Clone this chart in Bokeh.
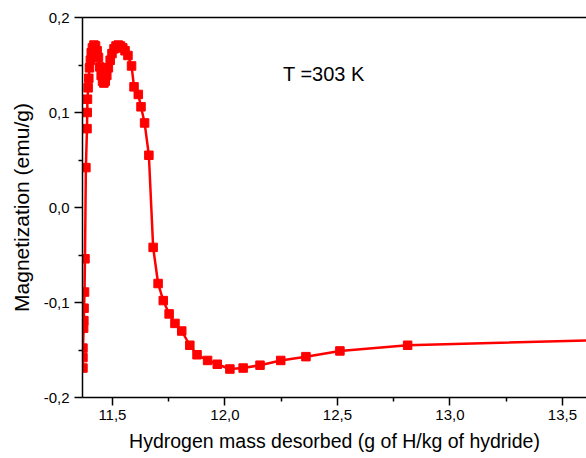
from bokeh.plotting import figure
from bokeh.models import FixedTicker, CustomJSTickFormatter, LinearAxis, Range1d, Label
from bokeh.embed import file_html
from bokeh.resources import INLINE

# Measured data (hydrogen mass desorbed, magnetization)
h_mass = [11.369, 11.369, 11.369, 11.372, 11.373, 11.374, 11.376, 11.378, 11.382,
          11.387, 11.388, 11.389, 11.392, 11.395, 11.398, 11.402, 11.406, 11.411,
          11.418, 11.425, 11.432, 11.438, 11.444, 11.450, 11.456, 11.462, 11.468,
          11.475, 11.482, 11.490, 11.498, 11.507, 11.516, 11.526, 11.536, 11.546,
          11.556, 11.569, 11.585, 11.596, 11.615, 11.627, 11.643, 11.662, 11.681,
          11.703, 11.726, 11.752, 11.778, 11.808, 11.844, 11.876, 11.923, 11.966,
          12.022, 12.081, 12.156, 12.248, 12.360, 12.511, 12.812]
magnet = [-0.169, -0.158, -0.148, -0.127, -0.119, -0.106, -0.089, -0.054, 0.042,
          0.083, 0.100, 0.114, 0.126, 0.136, 0.147, 0.155, 0.163, 0.168,
          0.171, 0.170, 0.165, 0.158, 0.148, 0.139, 0.133, 0.131, 0.133,
          0.139, 0.147, 0.155, 0.162, 0.167, 0.170, 0.171, 0.170, 0.168,
          0.165, 0.160, 0.149, 0.127, 0.119, 0.106, 0.089, 0.055, -0.042,
          -0.080, -0.098, -0.112, -0.122, -0.130, -0.145, -0.155, -0.161, -0.165,
          -0.170, -0.169, -0.166, -0.161, -0.157, -0.151, -0.145]
# fitted-curve tail beyond the last measured point
tail_mass = [12.812, 13.900]
tail_magnet = [-0.145, -0.138]

x_ticks = [11.5, 12.0, 12.5, 13.0, 13.5]
x_minor = [11.75, 12.25, 12.75, 13.25]
y_ticks = [-0.2, -0.1, 0.0, 0.1, 0.2]
y_minor = [-0.15, -0.05, 0.05, 0.15]

FONT = "Liberation Sans"

p = figure(width=586, height=458, output_backend="svg", toolbar_location=None,
           x_range=Range1d(11.367, 13.607), y_range=Range1d(-0.2, 0.2),
           min_border_left=82, min_border_right=0, min_border_top=17,
           min_border_bottom=61)
p.grid.visible = False
p.outline_line_color = None
p.background_fill_color = "white"
p.border_fill_color = "white"

fmt = CustomJSTickFormatter(code="return tick.toFixed(1).replace('.', ',');")

for ax, ticks, minor in ((p.xaxis[0], x_ticks, x_minor), (p.yaxis[0], y_ticks, y_minor)):
    ax.ticker = FixedTicker(ticks=ticks, minor_ticks=minor)
    ax.formatter = fmt
    ax.axis_line_width = 1.5
    ax.axis_line_color = "black"
    ax.major_tick_line_width = 1.5
    ax.minor_tick_line_width = 1.5
    ax.major_tick_in = 0
    ax.major_tick_out = 8
    ax.minor_tick_in = 0
    ax.minor_tick_out = 4
    ax.major_label_text_font = FONT
    ax.major_label_text_font_size = "15px"
    ax.major_label_text_color = "black"
    ax.axis_label_text_font = FONT
    ax.axis_label_text_font_style = "normal"
    ax.axis_label_text_color = "black"

p.xaxis.axis_label = "Hydrogen mass desorbed (g of H/kg of hydride)"
p.yaxis.axis_label = "Magnetization (emu/g)"
p.xaxis.axis_label_text_font_size = "19.5px"
p.yaxis.axis_label_text_font_size = "21px"
p.xaxis.major_label_standoff = 4
p.xaxis.axis_label_standoff = 7
p.yaxis.major_label_standoff = 5
p.yaxis.axis_label_standoff = 8

top = LinearAxis(ticker=FixedTicker(ticks=[]), axis_line_width=1.5,
                 major_tick_line_color=None, minor_tick_line_color=None,
                 major_label_text_font_size="0px")
p.add_layout(top, "above")

p.line(h_mass + tail_mass[1:], magnet + tail_magnet[1:], line_color="#ff0000", line_width=2.5)
p.scatter(h_mass, magnet, marker="square", size=8.5, fill_color="#ff0000",
          line_color="#ff0000")

p.add_layout(Label(x=12.258, y=0.141, text="T =303 K", text_font=FONT,
                   text_font_size="20px", text_baseline="middle", text_color="black"))

open("out.html", "w").write(file_html(p, INLINE))
